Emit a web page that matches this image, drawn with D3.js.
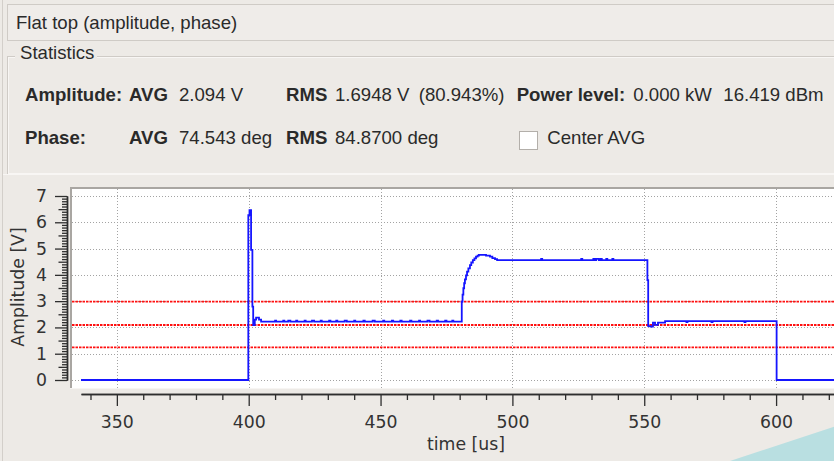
<!DOCTYPE html>
<html>
<head>
<meta charset="utf-8">
<script src="https://cdn.jsdelivr.net/npm/d3@7"></script>
<style>
  html, body { margin: 0; padding: 0; background: #edeae6; overflow: hidden; }
  svg { display: block; }
  .ui { font-family: 'Liberation Sans', Arial, sans-serif; font-size: 18.6px; fill: #2a2a2a; }
  .ui.bold { font-weight: bold; }
  .axis text { font-family: 'DejaVu Sans', sans-serif; font-size: 17.3px; fill: #333; }
  .axis path, .axis line { stroke: #2e2e2e; stroke-width: 1.3; }
</style>
</head>
<body>
<svg id="chart" width="834" height="461"></svg>
<script>
'use strict';

// amplitude trace: time [us] -> amplitude [V], held until the next sample
const ampTime = [
  336.4, 399.85, 400.3, 400.9, 401.4, 401.7, 402.3, 402.8, 403.9, 404.7,
  410.0, 410.4, 413.1, 413.5, 415.0, 415.8, 418.0, 418.4, 421.2, 421.6,
  424.0, 424.8, 427.3, 427.7, 430.5, 431.0, 433.2, 433.6, 436.4, 437.2,
  440.0, 440.4, 443.5, 444.0, 447.0, 447.8, 451.0, 451.4, 454.3, 454.8,
  457.5, 458.0, 461.2, 461.7, 464.6, 465.0, 467.8, 468.6, 471.3, 471.8,
  474.5, 475.0, 477.2, 477.6,
  480.8, 481.1, 481.4, 481.7, 482.0, 482.4, 482.8, 483.3, 483.9, 484.4,
  485.0, 485.6, 486.2, 486.8, 487.3, 490.0, 491.5, 492.4, 493.4, 494.2,
  510.9, 511.3, 526.1, 526.5, 530.7, 531.2, 531.8, 532.8, 533.5, 533.9,
  535.6, 536.0, 537.9, 538.3,
  551.2, 551.5, 552.4, 553.3, 554.1, 555.2, 557.9, 566.0, 566.4, 575.5,
  575.9, 588.0, 588.4, 600.2, 622.0
];
const ampValue = [
  0, 6.27, 6.46, 4.95, 2.79, 2.09, 2.30, 2.37, 2.30, 2.22,
  2.26, 2.22, 2.26, 2.22, 2.26, 2.22, 2.26, 2.22, 2.26, 2.22,
  2.26, 2.22, 2.26, 2.22, 2.26, 2.22, 2.26, 2.22, 2.26, 2.22,
  2.26, 2.22, 2.26, 2.22, 2.26, 2.22, 2.26, 2.22, 2.26, 2.22,
  2.26, 2.22, 2.26, 2.22, 2.26, 2.22, 2.26, 2.22, 2.26, 2.22,
  2.26, 2.22, 2.26, 2.22,
  2.98, 3.25, 3.49, 3.68, 3.83, 3.98, 4.12, 4.25, 4.37, 4.47,
  4.56, 4.63, 4.69, 4.73, 4.76, 4.73, 4.69, 4.64, 4.60, 4.56,
  4.61, 4.56, 4.61, 4.56, 4.61, 4.56, 4.61, 4.56, 4.61, 4.56,
  4.61, 4.56, 4.61, 4.56,
  3.80, 2.05, 2.03, 2.18, 2.10, 2.18, 2.24, 2.20, 2.24, 2.20,
  2.24, 2.20, 2.24, 0, 0
];

// red marker lines (upper, average, lower)
const limitLevels = [2.98, 2.094, 1.24];

const xTickValues = [350, 400, 450, 500, 550, 600];
const yTickValues = [0, 1, 2, 3, 4, 5, 6, 7];

const ampRow = ['Amplitude:', 'AVG', '2.094 V', 'RMS', '1.6948 V', '(80.943%)', 'Power level:', '0.000 kW', '16.419 dBm'];
const phaseRow = ['Phase:', 'AVG', '74.543 deg', 'RMS', '84.8700 deg'];

class FlatTopView {
  constructor (svg) {
    this.svg = svg;
    this.canvas = { left: 72, top: 189, right: 834, bottom: 388 };
    this.x = d3.scaleLinear().domain([336.4, 622.0]).range([81, 834.1]);
    this.y = d3.scaleLinear().domain([0, 7]).range([380, 196]);
  }

  render () {
    this.drawFrames();
    this.drawStats();
    this.drawCanvas();
    this.drawAxes();
    this.drawCurve();
  }

  drawFrames () {
    var svg = this.svg;

    svg.append('line')
      .attr('x1', 2.5).attr('x2', 2.5)
      .attr('y1', 0).attr('y2', 461)
      .attr('stroke', '#d3cfca');

    // title box
    svg.append('rect')
      .attr('x', 7.5).attr('y', 4.5)
      .attr('width', 900).attr('height', 36)
      .attr('fill', '#efece9')
      .attr('stroke', '#cfcbc6');

    svg.append('text')
      .attr('class', 'ui')
      .attr('x', 16).attr('y', 29.3)
      .text('Flat top (amplitude, phase)');

    // statistics group box
    svg.append('rect')
      .attr('x', 7.5).attr('y', 56.5)
      .attr('width', 900).attr('height', 118)
      .attr('fill', 'none')
      .attr('stroke', '#cfcbc6');
    svg.append('rect')
      .attr('x', 8.5).attr('y', 57.5)
      .attr('width', 900).attr('height', 116)
      .attr('fill', 'none')
      .attr('stroke', '#f8f6f4');

    svg.append('rect')
      .attr('x', 15).attr('y', 50)
      .attr('width', 82).attr('height', 12)
      .attr('fill', '#edeae6');

    svg.append('text')
      .attr('class', 'ui')
      .attr('x', 20).attr('y', 59.3)
      .text('Statistics');

    // desktop corner peeking through
    svg.append('path')
      .attr('d', 'M730,461 L834,426.7 L834,461 Z')
      .attr('fill', '#b9dfe1');
  }

  drawStats () {
    var svg = this.svg;
    var ampX = [25, 129, 179, 286, 335, 418.7, 516.7, 633.3, 723.3];
    var ampBold = [true, true, false, true, false, false, true, false, false];
    var phaseX = [25, 129, 179, 286, 335];
    var phaseBold = [true, true, false, true, false];

    svg.selectAll('.amp-stat')
      .data(ampRow)
      .enter().append('text')
      .attr('class', (d, i) => 'ui amp-stat' + (ampBold[i] ? ' bold' : ''))
      .attr('x', (d, i) => ampX[i])
      .attr('y', 100.7)
      .text(d => d);

    svg.selectAll('.phase-stat')
      .data(phaseRow)
      .enter().append('text')
      .attr('class', (d, i) => 'ui phase-stat' + (phaseBold[i] ? ' bold' : ''))
      .attr('x', (d, i) => phaseX[i])
      .attr('y', 144.3)
      .text(d => d);

    // Center AVG checkbox
    svg.append('rect')
      .attr('x', 519.5).attr('y', 131.5)
      .attr('width', 18).attr('height', 18)
      .attr('fill', '#ffffff')
      .attr('stroke', '#b3afaa');

    svg.append('text')
      .attr('class', 'ui')
      .attr('x', 547.3).attr('y', 144.3)
      .text('Center AVG');
  }

  drawCanvas () {
    var c = this.canvas, x = this.x, y = this.y;

    this.svg.append('line')
      .attr('x1', 3).attr('x2', 834)
      .attr('y1', 174.5).attr('y2', 174.5)
      .attr('stroke', '#f8f6f4');

    this.svg.append('rect')
      .attr('x', c.left).attr('y', c.top)
      .attr('width', c.right - c.left).attr('height', c.bottom - c.top)
      .attr('fill', '#ffffff');

    // sunken frame
    this.svg.append('path')
      .attr('d', `M${c.left - 1},${c.bottom} V${c.top - 1} H${c.right}`)
      .attr('fill', 'none')
      .attr('stroke', '#a9a6a2')
      .attr('stroke-width', 2);
    this.svg.append('line')
      .attr('x1', c.left - 2).attr('x2', c.right)
      .attr('y1', c.bottom + 0.5).attr('y2', c.bottom + 0.5)
      .attr('stroke', '#f7f5f3');

    var grid = this.svg.append('g')
      .attr('stroke', '#a3a3a3')
      .attr('stroke-width', 1)
      .attr('stroke-dasharray', '1,2');

    grid.selectAll('.vgrid')
      .data(xTickValues)
      .enter().append('line')
      .attr('x1', d => Math.round(x(d)) + 0.5)
      .attr('x2', d => Math.round(x(d)) + 0.5)
      .attr('y1', c.top)
      .attr('y2', c.bottom);

    grid.selectAll('.hgrid')
      .data(yTickValues)
      .enter().append('line')
      .attr('x1', c.left)
      .attr('x2', c.right)
      .attr('y1', d => Math.round(y(d)) + 0.5)
      .attr('y2', d => Math.round(y(d)) + 0.5);

    this.svg.append('g')
      .selectAll('line')
      .data(limitLevels)
      .enter().append('line')
      .attr('x1', c.left)
      .attr('x2', c.right)
      .attr('y1', d => y(d))
      .attr('y2', d => y(d))
      .attr('stroke', '#ff1010')
      .attr('stroke-width', 1.9)
      .attr('stroke-dasharray', '2.5,1');
  }

  drawAxes () {
    var x = this.x, y = this.y;

    var xMinor = d3.range(340, 621, 10).filter(t => t % 50 !== 0);
    var yMinor = d3.range(0, 70).map(i => i / 10).filter(v => Math.round(v * 10) % 10 !== 0);
    var yMedium = yMinor.filter(v => Math.round(v * 10) % 10 === 5);
    var ySmall = yMinor.filter(v => Math.round(v * 10) % 10 !== 5);

    var xg = this.svg.append('g')
      .attr('class', 'axis')
      .attr('transform', 'translate(0,394)');
    xg.append('g')
      .call(d3.axisBottom(x).tickValues(xMinor).tickSize(6).tickSizeOuter(0).tickFormat(''));
    xg.append('g')
      .call(d3.axisBottom(x).tickValues(xTickValues).tickSize(12).tickSizeOuter(0).tickPadding(9.5).tickFormat(d3.format('d')));
    xg.selectAll('text').attr('fill', '#333');

    var yg = this.svg.append('g')
      .attr('class', 'axis')
      .attr('transform', 'translate(67,0)');
    yg.append('g')
      .call(d3.axisLeft(y).tickValues(ySmall).tickSize(5).tickSizeOuter(0).tickFormat(''));
    yg.append('g')
      .call(d3.axisLeft(y).tickValues(yMedium).tickSize(8.5).tickSizeOuter(0).tickFormat(''));
    yg.append('g')
      .call(d3.axisLeft(y).tickValues(yTickValues).tickSize(12).tickSizeOuter(0).tickPadding(8).tickFormat(d3.format('d')));

    this.svg.append('text')
      .attr('class', 'axis-title')
      .attr('x', 466).attr('y', 450)
      .attr('text-anchor', 'middle')
      .style('font-family', "'DejaVu Sans', sans-serif")
      .style('font-size', '17.3px')
      .attr('fill', '#333')
      .text('time [us]');

    this.svg.append('text')
      .attr('transform', 'translate(24,287) rotate(-90)')
      .attr('text-anchor', 'middle')
      .style('font-family', "'DejaVu Sans', sans-serif")
      .style('font-size', '17.3px')
      .attr('fill', '#333')
      .text('Amplitude [V]');
  }

  drawCurve () {
    var c = this.canvas, x = this.x, y = this.y;

    this.svg.append('clipPath')
      .attr('id', 'canvas-clip')
      .append('rect')
      .attr('x', c.left).attr('y', c.top)
      .attr('width', c.right - c.left).attr('height', c.bottom - c.top);

    var line = d3.line()
      .x(i => x(ampTime[i]))
      .y(i => y(ampValue[i]))
      .curve(d3.curveStepAfter);

    this.svg.append('path')
      .attr('clip-path', 'url(#canvas-clip)')
      .attr('d', line(d3.range(ampTime.length)))
      .attr('fill', 'none')
      .attr('stroke', '#1515ff')
      .attr('stroke-width', 1.8);
  }
}

var view = new FlatTopView(d3.select('#chart'));
view.render();
</script>
</body>
</html>
